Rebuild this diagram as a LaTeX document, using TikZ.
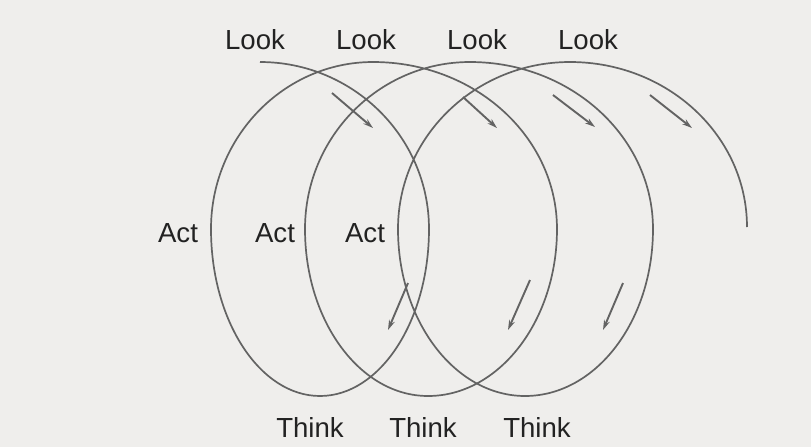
\documentclass[tikz,border=0pt]{standalone}
\usepackage{fontspec}
\setmainfont{Liberation Sans}
\usetikzlibrary{arrows.meta}
\definecolor{Paper}{HTML}{EFEEEC}
\definecolor{Stroke}{HTML}{636363}
\definecolor{Ink}{HTML}{222222}
\tikzset{
  coil/.style={draw=Stroke,line width=.85pt},
  flow/.style={-{Stealth[length=5pt,width=3pt]},draw=Stroke,line width=.95pt},
  lab/.style={font=\fontsize{13.8}{16}\selectfont,text=Ink,inner sep=0pt,anchor=base}
}

\begin{document}
\begin{tikzpicture}[x=.5pt,y=.5pt]
    \fill[Paper] (0,0) rectangle (811,447);
    % turning points of the coil
    \coordinate (t0) at (260,385); \coordinate (r1) at (429,218);
    \coordinate (b1) at (320,51);  \coordinate (l1) at (211,218);
    \coordinate (t1) at (373,385); \coordinate (r2) at (557,218);
    \coordinate (b2) at (428,51);  \coordinate (l2) at (305,218);
    \coordinate (t2) at (470,385); \coordinate (r3) at (653,218);
    \coordinate (b3) at (525,51);  \coordinate (l3) at (398,218);
    \coordinate (t3) at (570,385); \coordinate (r4) at (747,220);
    \draw[coil] (t0) .. controls +(93,0) and +(0,92) .. (r1)
      .. controls +(0,-92) and +(60,0) .. (b1)
      .. controls +(-60,0) and +(0,-92) .. (l1)
      .. controls +(0,92) and +(-89,0) .. (t1)
      .. controls +(102,0) and +(0,92) .. (r2)
      .. controls +(0,-92) and +(71,0) .. (b2)
      .. controls +(-68,0) and +(0,-92) .. (l2)
      .. controls +(0,92) and +(-91,0) .. (t2)
      .. controls +(101,0) and +(0,92) .. (r3)
      .. controls +(0,-92) and +(71,0) .. (b3)
      .. controls +(-70,0) and +(0,-92) .. (l3)
      .. controls +(0,92) and +(-95,0) .. (t3)
      .. controls +(98,0) and +(0,91) .. (r4);

    \node[lab] (look1) at (255,398) {Look}; \node[lab] (look2) at (366,398) {Look};
    \node[lab] (look3) at (477,398) {Look}; \node[lab] (look4) at (588,398) {Look};
    \node[lab] (act1) at (178,205) {Act}; \node[lab] (act2) at (275,205) {Act};
    \node[lab] (act3) at (365,205) {Act};
    \node[lab] (think1) at (310,10) {Think}; \node[lab] (think2) at (423,10) {Think};
    \node[lab] (think3) at (537,10) {Think};

    % little arrows along the coil
    \coordinate (a1) at (332,354); \coordinate (a1e) at (373,319);
    \coordinate (a2) at (463,350); \coordinate (a2e) at (497,319);
    \coordinate (a3) at (553,352); \coordinate (a3e) at (595,320);
    \coordinate (a4) at (650,352); \coordinate (a4e) at (692,319);
    \coordinate (d1) at (408,164); \coordinate (d1e) at (388,117);
    \coordinate (d2) at (530,167); \coordinate (d2e) at (508,117);
    \coordinate (d3) at (623,164); \coordinate (d3e) at (603,117);
    \draw[flow] (a1)--(a1e); \draw[flow] (a2)--(a2e);
    \draw[flow] (a3)--(a3e); \draw[flow] (a4)--(a4e);
    \draw[flow] (d1)--(d1e); \draw[flow] (d2)--(d2e); \draw[flow] (d3)--(d3e);
  \end{tikzpicture}
\end{document}
